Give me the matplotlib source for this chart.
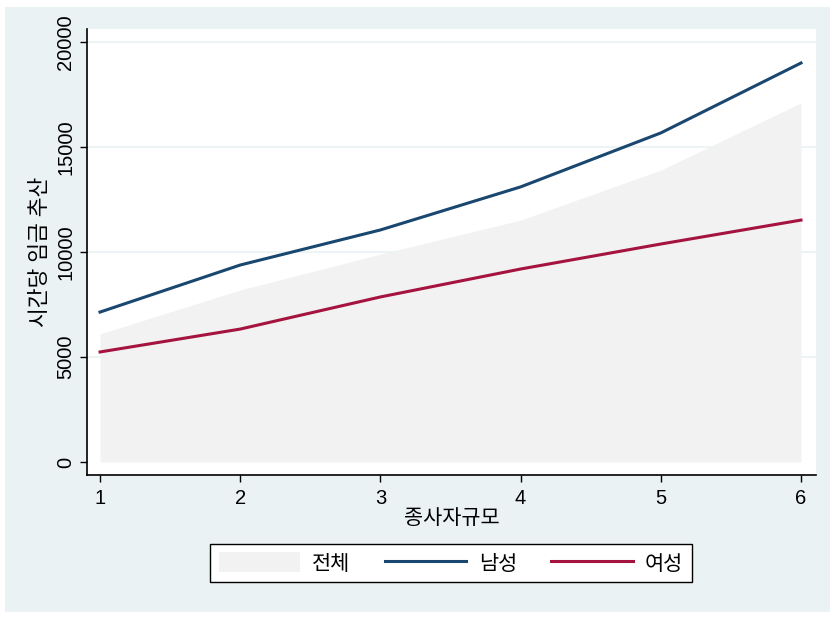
import matplotlib
matplotlib.use("Agg")
import matplotlib.pyplot as plt
from matplotlib.patches import Rectangle, Patch
from matplotlib.lines import Line2D

plt.rcParams['font.family'] = ['Liberation Sans', 'Noto Sans CJK KR']

# 데이터
size_class = [1, 2, 3, 4, 5, 6]
wage_all = [6100, 8190, 9900, 11520, 13900, 17100]
wage_male = [7140, 9380, 11050, 13100, 15670, 19000]
wage_female = [5240, 6330, 7860, 9190, 10380, 11520]
y_ticks = [0, 5000, 10000, 15000, 20000]

bg = '#eaf2f3'
c_area = '#f2f2f2'
c_male = '#1a476f'
c_female = '#a5133f'

fig = plt.figure(figsize=(8.37, 6.18), dpi=100)
fig.patch.set_facecolor('white')
fig.patches.append(Rectangle((5 / 837, 1 - 612 / 618), 825 / 837, 605 / 618,
                             transform=fig.transFigure, facecolor=bg,
                             edgecolor='none', zorder=-10))

ax = fig.add_axes([87 / 837, 1 - 475 / 618, 729 / 837, 446 / 618])
ax.set_facecolor('white')

ax.fill_between(size_class, 0, wage_all, color=c_area, linewidth=0, zorder=2)
ax.plot(size_class, wage_male, color=c_male, linewidth=2.2, zorder=3)
ax.plot(size_class, wage_female, color=c_female, linewidth=2.2, zorder=3)

ax.set_xlim(0.907, 6.107)
ax.set_ylim(-619, 20619)
ax.set_xticks(size_class)
ax.set_yticks(y_ticks)
ax.set_yticklabels([str(v) for v in y_ticks], rotation=90, va='center')
ax.tick_params(axis='both', labelsize=14.5, length=5, width=1, color='black')
ax.tick_params(axis='x', pad=5)

for v in y_ticks[1:]:
    ax.axhline(v, color=bg, linewidth=1.2, zorder=1)

for s in ['top', 'right']:
    ax.spines[s].set_visible(False)
for s in ['left', 'bottom']:
    ax.spines[s].set_linewidth(1.2)

ax.set_xlabel('종사자규모', fontsize=15, labelpad=1)
ax.set_ylabel('시간당 임금 추산', fontsize=15.5, labelpad=4)

handles = [Patch(facecolor=c_area, edgecolor='none'),
           Line2D([], [], color=c_male, linewidth=2.2),
           Line2D([], [], color=c_female, linewidth=2.2)]
leg = fig.legend(handles, ['전체', '남성', '여성'], ncol=3,
                 loc='center', bbox_to_anchor=(451 / 837, 1 - 563 / 618),
                 fontsize=15, frameon=True, fancybox=False,
                 handlelength=3.9, handleheight=1.1, handletextpad=0.6,
                 columnspacing=1.65, borderpad=0.4)
leg.get_frame().set_edgecolor('black')
leg.get_frame().set_linewidth(1.0)
leg.get_frame().set_facecolor('white')
leg.get_frame().set_alpha(1)

fig.savefig('out.png', dpi=100)
